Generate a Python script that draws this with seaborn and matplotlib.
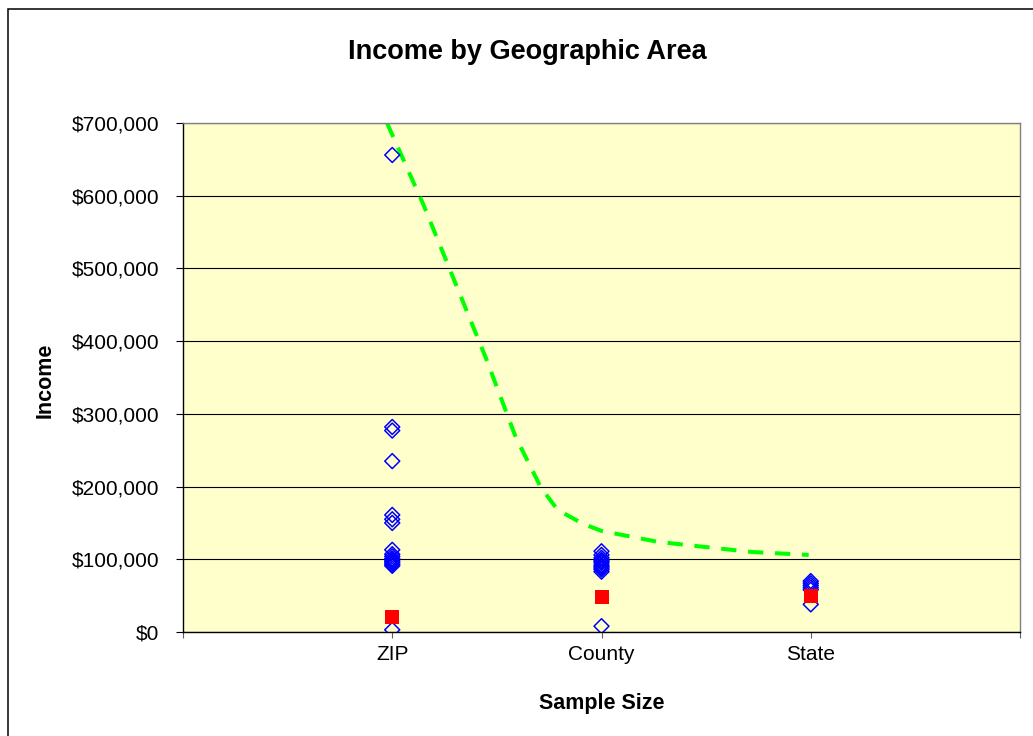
import matplotlib
matplotlib.use("Agg")
import matplotlib.pyplot as plt
from matplotlib.patches import Rectangle
from matplotlib.ticker import FuncFormatter, FixedLocator
import seaborn as sns
import pandas as pd

# ---------------- data ----------------
categories = ["ZIP", "County", "State"]
cat_positions = [1, 2, 3]

zip_incomes = [656000, 282000, 277000, 235000, 161000, 155000, 150000,
               113000, 107000, 104000, 101000, 99000, 97000, 95000, 93000, 91000,
               3000]
county_incomes = [111000, 106000, 102000, 99000, 97000, 95000, 92000, 90000,
                  88000, 86000, 83000, 8000]
state_incomes = [70000, 67000, 64000, 61000, 58000, 38000]

average_incomes = [21000, 48000, 50000]

bound_x = [0.975, 1.15, 1.30, 1.45, 1.59, 1.71, 1.79, 1.91, 2.0, 2.27, 2.46, 2.72, 2.99]
bound_y = [700000, 587000, 481000, 375000, 268000, 199000, 168000, 149000,
           139000, 124000, 118000, 110000, 106000]

y_ticks = [0, 100000, 200000, 300000, 400000, 500000, 600000, 700000]

# ---------------- tables ----------------
pts = pd.DataFrame({
    "x": [cat_positions[0]] * len(zip_incomes)
         + [cat_positions[1]] * len(county_incomes)
         + [cat_positions[2]] * len(state_incomes),
    "income": zip_incomes + county_incomes + state_incomes,
})
avg = pd.DataFrame({"x": cat_positions, "income": average_incomes})
bound = pd.DataFrame({"x": bound_x, "income": bound_y})

# ---------------- style ----------------
sns.set_style("white")
plt.rcParams["font.family"] = ["Liberation Sans", "DejaVu Sans"]
plt.rcParams["text.color"] = "black"
plt.rcParams["axes.labelcolor"] = "black"
plt.rcParams["xtick.color"] = "black"
plt.rcParams["ytick.color"] = "black"

W, H = 1033, 736
fig = plt.figure(figsize=(W / 100, H / 100), dpi=100)
fig.patch.set_facecolor("white")

ax_left, ax_right, ax_top, ax_bot = 183, 1020, 123, 632
ax = fig.add_axes([ax_left / W, 1 - ax_bot / H,
                   (ax_right - ax_left) / W, (ax_bot - ax_top) / H])
ax.set_facecolor("#FFFFCC")
ax.set_axisbelow(True)

# outer chart border
fig.patches.append(Rectangle((8 / W, -0.05), 1.2, 1 - 9 / H + 0.05,
                             transform=fig.transFigure, fill=False,
                             edgecolor="black", linewidth=1.1, zorder=0))

# green dashed curve
sns.lineplot(data=bound, x="x", y="income", ax=ax, color="#00FF00",
             linewidth=2.9, sort=False, zorder=2)
ax.lines[-1].set_dashes([3.8, 2.9])

# blue diamonds
sns.scatterplot(data=pts, x="x", y="income", ax=ax, marker="D", s=58,
                facecolor="none", edgecolor="#0000FF", linewidth=1.1, zorder=3)

# red squares
sns.scatterplot(data=avg, x="x", y="income", ax=ax, marker="s", s=92,
                color="#FF0000", linewidth=0, zorder=4)

# axes
ax.set_xlim(0, 4)
ax.set_ylim(0, 700000)
ax.xaxis.set_major_locator(FixedLocator([0, 1, 2, 3, 4]))
ax.set_xticklabels([""] + categories + [""])
ax.yaxis.set_major_locator(FixedLocator(y_ticks))
ax.yaxis.set_major_formatter(FuncFormatter(lambda v, p: "${:,.0f}".format(v)))

ax.yaxis.grid(True, color="black", linewidth=0.8)
ax.xaxis.grid(False)

for side in ["top", "right"]:
    ax.spines[side].set_visible(True)
    ax.spines[side].set_color("#808080")
    ax.spines[side].set_linewidth(1.0)
for side in ["left", "bottom"]:
    ax.spines[side].set_color("black")
    ax.spines[side].set_linewidth(1.0)

ax.tick_params(axis="y", direction="out", length=5, width=0.8, color="black",
               labelcolor="black", pad=12, labelsize=15, left=True)
ax.tick_params(axis="x", direction="out", length=4.5, width=0.8, color="#606060",
               labelcolor="black", pad=5, labelsize=15, bottom=True)

ax.set_xlabel("Sample Size", fontsize=15.5, fontweight="bold", color="black")
ax.set_ylabel("Income", fontsize=15.5, fontweight="bold", color="black")
ax.xaxis.set_label_coords(0.5, (ax_bot - 693) / (ax_bot - ax_top))
ax.yaxis.set_label_coords((56 - ax_left) / (ax_right - ax_left), 0.495)

fig.text(527 / W, 1 - 59 / H, "Income by Geographic Area", ha="center",
         va="baseline", fontsize=19.5, fontweight="bold", color="black")

fig.savefig("out.png", dpi=100)
